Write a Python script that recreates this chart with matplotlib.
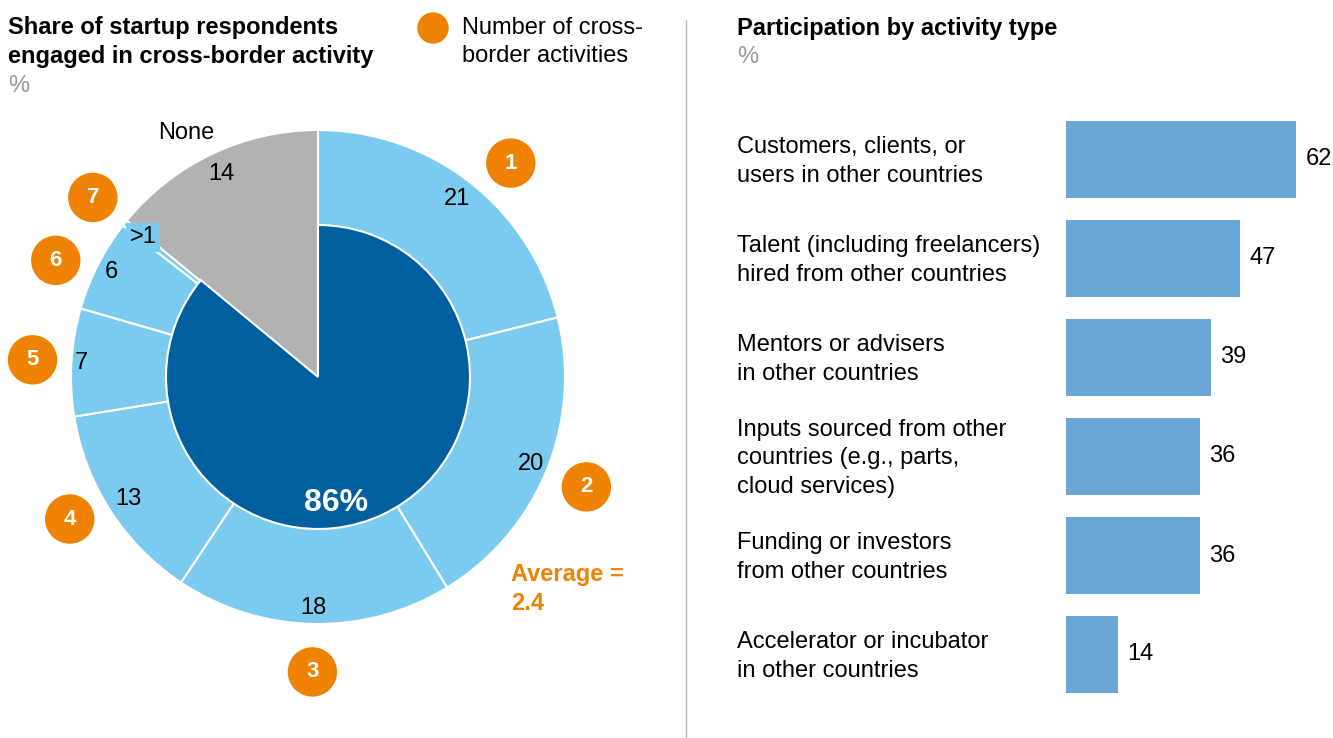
import numpy as np
import matplotlib.pyplot as plt
from matplotlib.patches import Circle
from matplotlib.lines import Line2D
from matplotlib.transforms import blended_transform_factory

plt.rcParams['font.family'] = ['Liberation Sans', 'DejaVu Sans']

# left: share of respondents by number of cross-border activities
ring_values = [21, 20, 18, 13, 7, 6, 0.4, 14]
ring_labels = ['21', '20', '18', '13', '7', '6', '>1', '14']
activity_counts = ['1', '2', '3', '4', '5', '6', '7']
engaged_share = 86
none_share = 14
average_activities = 2.4

# right: participation by activity type
categories = [
    'Customers, clients, or\nusers in other countries',
    'Talent (including freelancers)\nhired from other countries',
    'Mentors or advisers\nin other countries',
    'Inputs sourced from other\ncountries (e.g., parts,\ncloud services)',
    'Funding or investors\nfrom other countries',
    'Accelerator or incubator\nin other countries',
]
participation = [62, 47, 39, 36, 36, 14]

LIGHT = '#7acbef'
DARK = '#005f9e'
GRAY = '#b2b2b2'
ORANGE = '#ef8200'
BAR = '#6aa7d6'
PCT = '#9a9a9a'
FS = 17
LS = 1.36

# label placement around the ring (radius in px, badge angle nudge in degrees)
label_r = [226, 230, 231, 225, 237, 232, 224, 225]
badge_r = [288, 290, 295, 286, 286, 287, 288]
badge_nudge = [4, 0, 0, 3, 0, -3, 0]

W, H = 1333, 738
fig = plt.figure(figsize=(W / 100, H / 100), dpi=100)


def fx(px):
    return px / W


def fy(py):
    return 1 - py / H


# ---- donut (axes in pixel units, centred on the chart) ----
cx, cy, half = 318, 377, 360
r_out, r_in = 247, 152
ax = fig.add_axes([fx(cx - half), fy(cy + half), 2 * half / W, 2 * half / H])

colors = [LIGHT] * (len(ring_values) - 1) + [GRAY]
ax.pie(ring_values, radius=r_out, colors=colors, startangle=90, counterclock=False,
       wedgeprops=dict(edgecolor='white', linewidth=1.5))
inner, _ = ax.pie([engaged_share, none_share], radius=r_in, colors=[DARK, GRAY],
                  startangle=90, counterclock=False,
                  wedgeprops=dict(edgecolor='white', linewidth=1.5))
inner[1].set_visible(False)

ax.set_xlim(-half, half)
ax.set_ylim(-half, half)
ax.set_aspect('equal')
ax.axis('off')

total = sum(ring_values)
cum = np.cumsum([0] + ring_values)
mids = 360 * (cum[:-1] + cum[1:]) / 2 / total  # compass bearing, clockwise from top


def polar(r, bearing):
    b = np.deg2rad(bearing)
    return r * np.sin(b), r * np.cos(b)


for i, lab in enumerate(ring_labels):
    x, y = polar(label_r[i], mids[i])
    if lab == '>1':
        ax.text(x, y, lab, ha='center', va='center', fontsize=FS,
                bbox=dict(facecolor=LIGHT, edgecolor='none', pad=2.5))
    else:
        ax.text(x, y, lab, ha='center', va='center', fontsize=FS)

for i, n in enumerate(activity_counts):
    x, y = polar(badge_r[i], mids[i] + badge_nudge[i])
    ax.add_patch(Circle((x, y), 24, color=ORANGE, clip_on=False))
    ax.text(x, y, n, ha='center', va='center', fontsize=16, fontweight='bold',
            color='white')

x, y = polar(277, mids[-1] - 3)
ax.text(x, y, 'None', ha='center', va='center', fontsize=FS)
ax.text(18, -126, f'{engaged_share}%', ha='center', va='center', fontsize=23,
        fontweight='bold', color='white')

# legend marker
ax.add_patch(Circle((433 - cx, cy - 28), 15, color=ORANGE, clip_on=False))
fig.text(fx(462), fy(42), 'Number of cross-\nborder activities', ha='left',
         va='center', fontsize=FS, linespacing=LS)

fig.text(fx(511), fy(589), f'Average =\n{average_activities}', ha='left', va='center',
         fontsize=FS, fontweight='bold', color=ORANGE, linespacing=LS)

fig.text(fx(8), fy(42), 'Share of startup respondents\nengaged in cross-border activity',
         ha='left', va='center', fontsize=FS, fontweight='bold', linespacing=LS)
fig.text(fx(8), fy(86), '%', ha='left', va='center', fontsize=FS, color=PCT)

# divider
fig.add_artist(Line2D([fx(686), fx(686)], [fy(20), 0], color='#b8b8b8', lw=1))

# ---- bars ----
bar_left, bar_px_62 = 1066, 230
xmax = (W - bar_left) * participation[0] / bar_px_62
ax2 = fig.add_axes([fx(bar_left), fy(704), (W - bar_left) / W, (704 - 110) / H])
ypos = np.arange(len(categories))
ax2.barh(ypos, participation, height=0.78, color=BAR)
ax2.set_xlim(0, xmax)
ax2.set_ylim(len(categories) - 0.5, -0.5)
ax2.axis('off')

for i, v in enumerate(participation):
    ax2.text(v + 2.6, i, str(v), ha='left', va='center', fontsize=FS)

trans = blended_transform_factory(fig.transFigure, ax2.transData)
for i, cat in enumerate(categories):
    ax2.text(fx(737), i + 0.02, cat, transform=trans, ha='left', va='center',
             fontsize=FS, linespacing=LS)

fig.text(fx(737), fy(28), 'Participation by activity type', ha='left', va='center',
         fontsize=FS, fontweight='bold')
fig.text(fx(737), fy(57), '%', ha='left', va='center', fontsize=FS, color=PCT)

fig.savefig('out.png', dpi=100)
